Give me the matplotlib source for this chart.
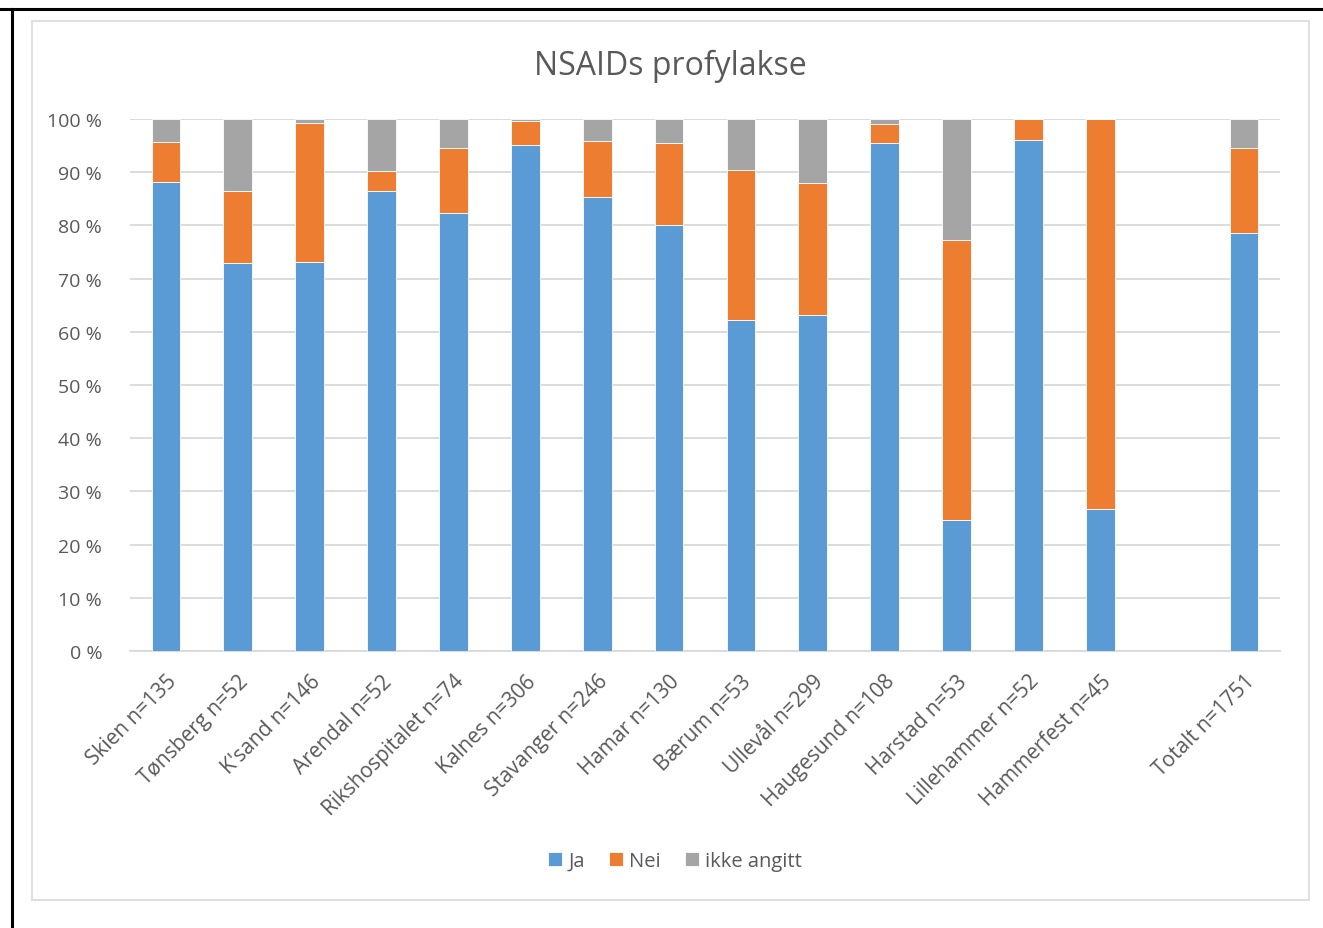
import numpy as np
import matplotlib.pyplot as plt
from matplotlib.patches import Rectangle
from matplotlib.lines import Line2D

# Categories (empty slot before the total, as in the original chart)
categories = ['Skien n=135', 'Tønsberg n=52', "K'sand n=146", 'Arendal n=52',
              'Rikshospitalet n=74', 'Kalnes n=306', 'Stavanger n=246',
              'Hamar n=130', 'Bærum n=53', 'Ullevål n=299', 'Haugesund n=108',
              'Harstad n=53', 'Lillehammer n=52', 'Hammerfest n=45', '',
              'Totalt n=1751']

# Percent values
ja = [88.2, 73.0, 73.2, 86.5, 82.4, 95.2, 85.4, 80.0, 62.2, 63.2, 95.4,
      24.6, 96.1, 26.6, 0.0, 78.5]
nei = [7.4, 13.5, 26.1, 3.8, 12.1, 4.5, 10.5, 15.4, 28.3, 24.7, 3.7,
       52.7, 3.9, 73.4, 0.0, 16.1]
ikke = [4.4, 13.5, 0.7, 9.7, 5.5, 0.3, 4.1, 4.6, 9.5, 12.1, 0.9,
        22.7, 0.0, 0.0, 0.0, 5.4]

series_names = ['Ja', 'Nei', 'ikke angitt']
colors = ['#5B9BD5', '#ED7D31', '#A5A5A5']

plt.rcParams['font.family'] = ['Open Sans', 'DejaVu Sans']
txt = '#595959'

fig = plt.figure(figsize=(13.23, 9.29), dpi=100)
W, H = 1323, 929

# outer black frame (top and left) and inner grey chart frame
fig.add_artist(Line2D([0, 1], [1 - 10 / H, 1 - 10 / H], color='black', lw=2.2))
fig.add_artist(Line2D([12 / W, 12 / W], [0, 1 - 10 / H], color='black', lw=2.2))
fig.add_artist(Rectangle((32 / W, 1 - 901 / H), (1309 - 32) / W, (901 - 22) / H,
                         fill=False, edgecolor='#D9D9D9', lw=1.2))

ax = fig.add_axes([130 / W, 1 - 652 / H, (1280 - 130) / W, (652 - 120) / H])
x = np.arange(len(categories))
bottom = np.zeros(len(categories))
for vals, name, c in zip([ja, nei, ikke], series_names, colors):
    ax.bar(x, vals, width=0.4, bottom=bottom, color=c, label=name,
           edgecolor='white', linewidth=0.6, zorder=3)
    bottom += np.array(vals)

ax.set_xlim(-0.5, len(categories) - 0.5)
ax.set_ylim(0, 100)
ax.set_yticks(np.arange(0, 101, 10))
ax.set_yticklabels([f'{v} %' for v in range(0, 101, 10)], color=txt, fontsize=14)
ax.yaxis.grid(True, color='#D9D9D9', lw=1.3, zorder=0)
ax.tick_params(axis='both', length=0)
ax.tick_params(axis='y', pad=20)
ax.set_xticks(x)
ax.set_xticklabels(categories, rotation=45, ha='right', rotation_mode='anchor',
                   color=txt, fontsize=15)
ax.tick_params(axis='x', pad=14)
for s in ['top', 'right', 'left']:
    ax.spines[s].set_visible(False)
ax.spines['bottom'].set_color('#D9D9D9')
ax.spines['bottom'].set_linewidth(1.3)

fig.text(670 / W, 1 - 66 / H, 'NSAIDs profylakse', ha='center', va='center',
         fontsize=23, color=txt)

fig.legend(loc='center', bbox_to_anchor=(675 / W, 1 - 862 / H), ncol=3,
           frameon=False, fontsize=14.5, labelcolor=txt, handlelength=0.7,
           handleheight=0.7, handletextpad=0.3, columnspacing=1.2)

fig.savefig('out.png', dpi=100, facecolor='white')
